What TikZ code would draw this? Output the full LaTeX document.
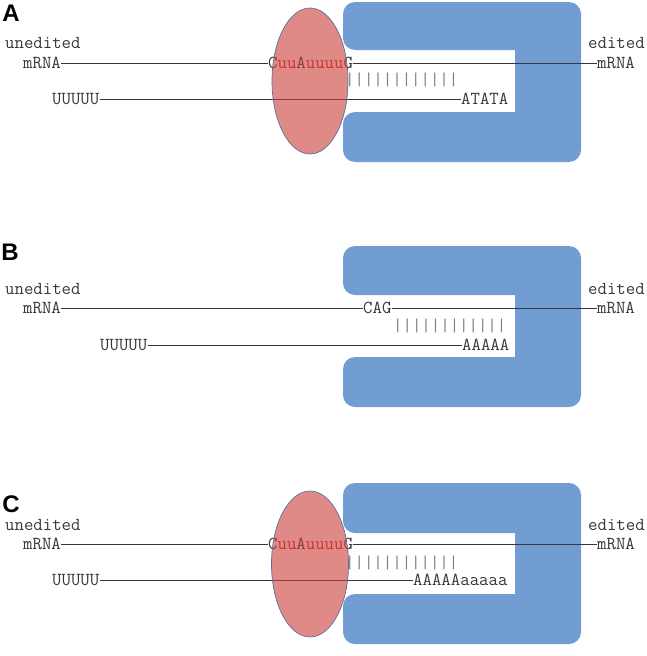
\documentclass[tikz,border=0pt]{standalone}
\usepackage{fontspec}
\setsansfont{Liberation Sans}
\definecolor{editblue}{RGB}{113,157,210}
\definecolor{guidered}{RGB}{203,60,55}
\definecolor{rimblue}{RGB}{95,110,155}
\definecolor{seqred}{RGB}{205,35,35}
\definecolor{seqgray}{RGB}{55,55,55}
\begin{document}
\begin{tikzpicture}[x=1pt, y=-1pt,
    seq/.style={font=\ttfamily\fontsize{18.3}{18}\selectfont, text=seqgray, inner sep=0pt, anchor=west},
    pairs/.style={seq, text=gray},
    strand/.style={draw=seqgray, line width=0.8pt},
    panel/.style={font=\sffamily\bfseries\fontsize{24}{24}\selectfont, inner sep=0pt},
    guide/.style={draw=rimblue, fill=guidered, fill opacity=0.6, line width=0.7pt},
    editosome/.style={fill=editblue, rounded corners=12}]
  \useasboundingbox (0,0) rectangle (647,656);

  % A
  \fill[editosome] (343,2) rectangle (581,50) (515,2) rectangle (581,162) (343,112) rectangle (581,162);
  \node[panel] (labA) at (11,13) {A};
  \node[seq] (unA) at (5,43) {unedited};
  \node[seq] (mlA) at (23,63) {mRNA};
  \node[seq] (uA) at (52,99) {UUUUU};
  \node[seq] (siteA) at (268,63) {C\textcolor{seqred}{uu}A\textcolor{seqred}{uuuu}G};
  \node[pairs] (pA) at (345,80) {||||||||||||};
  \node[seq] (tailA) at (461,99) {ATATA};
  \node[seq] (edA) at (588,43) {edited};
  \node[seq] (mrA) at (597,63) {mRNA};
  \draw[strand] (mlA) -- (siteA) (siteA) -- (mrA) (uA) -- (tailA);
  \draw[guide] (310,81) ellipse (38 and 73);

  % B
  \fill[editosome] (343,246) rectangle (581,295) (515,246) rectangle (581,407) (343,357) rectangle (581,407);
  \node[panel] (labB) at (10,252) {B};
  \node[seq] (unB) at (5,289) {unedited};
  \node[seq] (mlB) at (23,308) {mRNA};
  \node[seq] (uB) at (100,345) {UUUUU};
  \node[seq] (siteB) at (363,308) {CAG};
  \node[pairs] (pB) at (393,326) {||||||||||||};
  \node[seq] (tailB) at (462,345) {AAAAA};
  \node[seq] (edB) at (588,289) {edited};
  \node[seq] (mrB) at (597,308) {mRNA};
  \draw[strand] (mlB) -- (siteB) (siteB) -- (mrB) (uB) -- (tailB);

  % C
  \fill[editosome] (343,483) rectangle (581,533) (515,483) rectangle (581,644) (343,594) rectangle (581,644);
  \node[panel] (labC) at (11,504) {C};
  \node[seq] (unC) at (5,525) {unedited};
  \node[seq] (mlC) at (23,544) {mRNA};
  \node[seq] (uC) at (52,580) {UUUUU};
  \node[seq] (siteC) at (268,544) {C\textcolor{seqred}{uu}A\textcolor{seqred}{uuuu}G};
  \node[pairs] (pC) at (345,563) {||||||||||||};
  \node[seq] (tailC) at (413,580) {AAAAAaaaaa};
  \node[seq] (edC) at (588,525) {edited};
  \node[seq] (mrC) at (597,544) {mRNA};
  \draw[strand] (mlC) -- (siteC) (siteC) -- (mrC) (uC) -- (tailC);
  \draw[guide] (310,564) ellipse (38.5 and 73);
\end{tikzpicture}
\end{document}
